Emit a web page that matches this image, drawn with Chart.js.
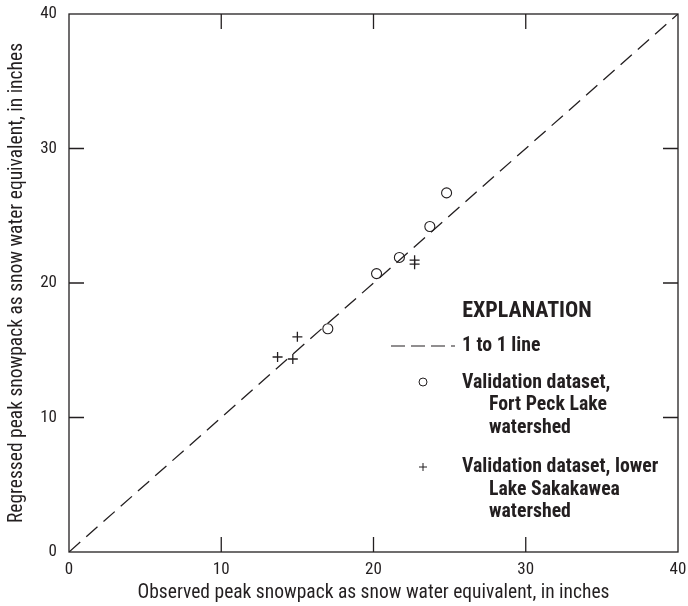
<!DOCTYPE html>
<html>
<head>
<meta charset="utf-8">
<script src="https://cdn.jsdelivr.net/npm/chart.js@4/dist/chart.umd.min.js"></script>
<style>
  html, body { margin: 0; padding: 0; background: #fff; }
  #wrap { width: 688px; height: 606px; }
</style>
</head>
<body>
<div id="wrap"><canvas id="swe"></canvas></div>
<script>
// axis ticks (inches)
const tickValues = [0, 10, 20, 30, 40];

// 1 to 1 reference line
const oneToOne = [[0, 0], [40, 40]];

// Fort Peck Lake watershed validation sites: observed, regressed
const fortPeckObserved = [17.0, 20.2, 21.7, 23.7, 24.8];
const fortPeckRegressed = [16.6, 20.7, 21.9, 24.2, 26.7];

// lower Lake Sakakawea watershed validation sites
const sakakaweaObserved = [13.7, 14.7, 15.0, 22.7, 22.7];
const sakakaweaRegressed = [14.5, 14.35, 16.0, 21.4, 21.7];

const ink = '#231f20';
const narrow = '"Roboto Condensed", "Liberation Sans Narrow", sans-serif';

function pairs(xs, ys) {
  return xs.map((x, i) => ({ x: x, y: ys[i] }));
}

// frame with inward ticks on all four sides, plus the explanation block
const framePlugin = {
  id: 'frame',
  afterDraw(chart) {
    const { ctx, chartArea: a, scales } = chart;
    const len = 15;
    ctx.save();
    ctx.strokeStyle = ink;
    ctx.lineWidth = 1.3;
    ctx.strokeRect(a.left, a.top, a.right - a.left, a.bottom - a.top);
    ctx.beginPath();
    tickValues.slice(1, -1).forEach(v => {
      const px = scales.x.getPixelForValue(v);
      const py = scales.y.getPixelForValue(v);
      ctx.moveTo(px, a.bottom); ctx.lineTo(px, a.bottom - len);
      ctx.moveTo(px, a.top); ctx.lineTo(px, a.top + len);
      ctx.moveTo(a.left, py); ctx.lineTo(a.left + len, py);
      ctx.moveTo(a.right, py); ctx.lineTo(a.right - len, py);
    });
    ctx.stroke();

    // explanation
    const kx = 391, tx = 462, ind = 489;
    ctx.fillStyle = ink;
    ctx.textBaseline = 'middle';
    ctx.textAlign = 'center';
    ctx.font = 'bold 22px ' + narrow;
    ctx.fillText('EXPLANATION', 527, 311);

    ctx.textAlign = 'left';
    ctx.font = 'bold 19.8px ' + narrow;
    ctx.beginPath();
    ctx.setLineDash([14, 6]);
    ctx.lineWidth = 1.2;
    ctx.moveTo(kx, 346); ctx.lineTo(455, 346);
    ctx.stroke();
    ctx.setLineDash([]);
    ctx.fillText('1 to 1 line', tx, 346);

    ctx.beginPath();
    ctx.lineWidth = 1;
    ctx.arc(423, 382, 4, 0, Math.PI * 2);
    ctx.stroke();
    ctx.fillText('Validation dataset,', tx, 383);
    ctx.fillText('Fort Peck Lake', ind, 405);
    ctx.fillText('watershed', ind, 428);

    ctx.beginPath();
    ctx.moveTo(419, 467); ctx.lineTo(427, 467);
    ctx.moveTo(423, 463); ctx.lineTo(423, 471);
    ctx.stroke();
    ctx.fillText('Validation dataset, lower', tx, 467);
    ctx.fillText('Lake Sakakawea', ind, 490);
    ctx.fillText('watershed', ind, 512);
    ctx.restore();
  }
};

new Chart(document.getElementById('swe'), {
  type: 'scatter',
  data: {
    datasets: [
      {
        type: 'line',
        label: '1 to 1 line',
        data: oneToOne.map(p => ({ x: p[0], y: p[1] })),
        borderColor: ink,
        borderWidth: 1.3,
        borderDash: [15, 8],
        pointRadius: 0,
        fill: false
      },
      {
        label: 'Validation dataset, Fort Peck Lake watershed',
        data: pairs(fortPeckObserved, fortPeckRegressed),
        pointStyle: 'circle',
        pointRadius: 5,
        borderColor: ink,
        borderWidth: 1.1,
        backgroundColor: 'rgba(255,255,255,0)'
      },
      {
        label: 'Validation dataset, lower Lake Sakakawea watershed',
        data: pairs(sakakaweaObserved, sakakaweaRegressed),
        pointStyle: 'cross',
        pointRadius: 5,
        borderColor: ink,
        borderWidth: 1.3
      }
    ]
  },
  options: {
    responsive: true,
    maintainAspectRatio: false,
    animation: false,
    layout: { padding: { left: 0, right: 10, top: 14, bottom: 0 } },
    plugins: {
      legend: { display: false },
      tooltip: { enabled: false }
    },
    scales: {
      x: {
        type: 'linear',
        min: 0,
        max: 40,
        grid: { display: false, drawTicks: false },
        border: { display: false },
        afterBuildTicks: s => { s.ticks = tickValues.map(v => ({ value: v })); },
        afterFit: s => { s.height = 54; s.paddingLeft = 0; s.paddingRight = 0; },
        ticks: {
          padding: 8,
          maxRotation: 0,
          color: ink,
          font: { family: narrow, size: 17 }
        },
        title: {
          display: true,
          text: 'Observed peak snowpack as snow water equivalent, in inches',
          color: ink,
          font: { family: narrow, size: 19.5 },
          padding: { top: 0, bottom: 1 }
        }
      },
      y: {
        type: 'linear',
        min: 0,
        max: 40,
        grid: { display: false, drawTicks: false },
        border: { display: false },
        afterBuildTicks: s => { s.ticks = tickValues.map(v => ({ value: v })); },
        afterFit: s => { s.width = 69; s.paddingTop = 0; s.paddingBottom = 0; },
        ticks: {
          padding: 12,
          color: ink,
          font: { family: narrow, size: 17 }
        },
        title: {
          display: true,
          text: 'Regressed peak snowpack as snow water equivalent, in inches',
          color: ink,
          font: { family: narrow, size: 19.5 },
          padding: { top: 5, bottom: 0 }
        }
      }
    }
  },
  plugins: [framePlugin]
});
</script>
</body>
</html>
